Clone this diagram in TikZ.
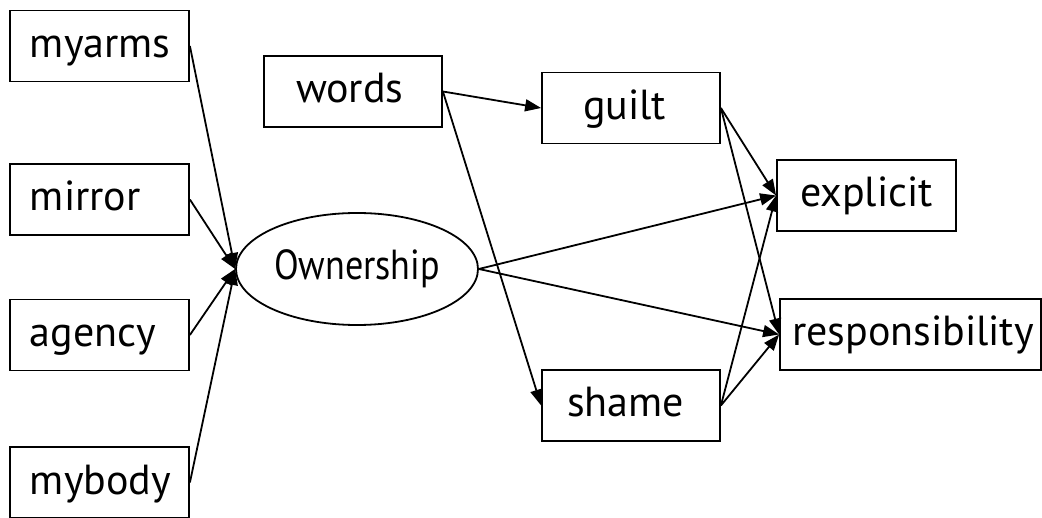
\documentclass[tikz,border=0pt]{standalone}
\usepackage{fontspec}
\setmainfont{PT Sans}
\usetikzlibrary{shapes.geometric,arrows.meta}
\tikzset{
  box/.style={draw, line width=1.8pt, inner sep=0pt, minimum height=71pt, text height=23pt, text depth=0pt, font=\fontsize{42}{46}\selectfont},
  own/.style={draw, ellipse, line width=1.8pt, inner sep=0pt, minimum width=242pt, minimum height=112pt, font=\fontsize{42}{46}\selectfont},
  conn/.style={line width=1.8pt, -{Triangle[length=16pt,width=12pt]}}
}
\newcommand{\lbl}[3]{\makebox[#1pt][l]{\hspace*{#2pt}#3}}
\begin{document}
\begin{tikzpicture}[x=1pt,y=-1pt]
\useasboundingbox[fill=white] (0,0) rectangle (1042,518);
\node[box] (myarms) at (99.5,46) {\lbl{179}{20}{myarms}};
\node[box] (mirror) at (99.5,199.5) {\lbl{179}{20}{mirror}};
\node[box] (agency) at (99.5,335) {\lbl{179}{20}{agency}};
\node[box] (mybody) at (99.5,482.5) {\lbl{179}{20}{mybody}};
\node[box] (words) at (353,91.5) {\lbl{178}{32}{words}};
\node[box] (guilt) at (631,108) {\lbl{178}{41}{guilt}};
\node[box] (shame) at (631,405.5) {\lbl{178}{25}{shame}};
\node[box] (explicit) at (866.5,195.5) {\lbl{179}{23}{explicit}};
\node[box] (resp) at (910.5,334.5) {\lbl{261}{12}{responsibility}};
\node[own] (own) at (357,269) {\scalebox{0.86}[1]{Ownership}};
\draw[conn] (myarms.east) -- (own.west);
\draw[conn] (mirror.east) -- (own.west);
\draw[conn] (agency.east) -- (own.west);
\draw[conn] (mybody.east) -- (own.west);
\draw[conn] (words.east) -- (guilt.west);
\draw[conn] (words.east) -- (shame.west);
\draw[conn] (guilt.east) -- (explicit.west);
\draw[conn] (guilt.east) -- (resp.west);
\draw[conn] (own.east) -- (explicit.west);
\draw[conn] (own.east) -- (resp.west);
\draw[conn] (shame.east) -- (explicit.west);
\draw[conn] (shame.east) -- (resp.west);
\end{tikzpicture}
\end{document}
